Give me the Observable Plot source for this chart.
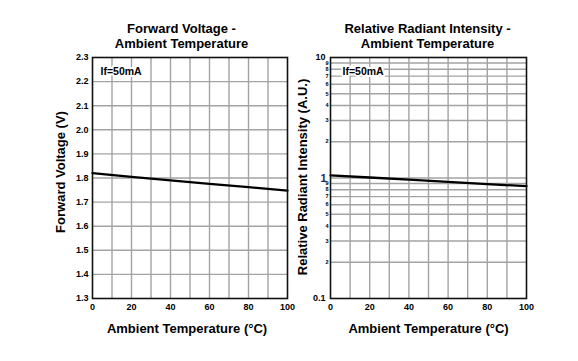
<!DOCTYPE html>
<html><head><meta charset="utf-8">
<script src="https://cdn.jsdelivr.net/npm/d3@7"></script>
<script src="https://cdn.jsdelivr.net/npm/@observablehq/plot@0.6"></script>
<style>
body{margin:0;background:#fff;}
#wrap{display:flex;width:578px;height:361px;overflow:hidden;background:#fff;}
svg{font-family:"Liberation Sans",Arial,sans-serif;overflow:visible;}
svg text{font-weight:bold;}
</style>
</head><body><div id="wrap"></div>
<script>
// ---- data ----
const temps = [0, 20, 40, 60, 80, 100];
const forwardVoltage = [1.82, 1.805, 1.79, 1.776, 1.762, 1.748];
const relIntensity = [1.05, 1.01, 0.97, 0.93, 0.89, 0.855];

const xTicks = [0, 20, 40, 60, 80, 100];
const xGrid = [10, 20, 30, 40, 50, 60, 70, 80, 90];
const vfTicks = [1.3, 1.4, 1.5, 1.6, 1.7, 1.8, 1.9, 2.0, 2.1, 2.2, 2.3];
const intMajorTicks = [0.1, 10];
const intUnitTick = [1];
const intMinorTicks = [0.2, 0.3, 0.4, 0.5, 0.6, 0.7, 0.8, 0.9, 2, 3, 4, 5, 6, 7, 8, 9];
const intMinorLabels = ["2", "3", "4", "5", "6", "7", "8", "9", "2", "3", "4", "5", "6", "7", "8", "9"];
const intGrid = [0.2, 0.3, 0.4, 0.5, 0.6, 0.7, 0.8, 0.9, 1, 2, 3, 4, 5, 6, 7, 8, 9];

const leftTitle = ["Forward Voltage -", "Ambient Temperature"];
const rightTitle = ["Relative Radiant Intensity -", "Ambient Temperature"];
const xTitle = "Ambient Temperature (°C)";
const leftYTitle = "Forward Voltage (V)";
const rightYTitle = "Relative Radiant Intensity (A.U.)";
const condition = "If=50mA";

const vfData = temps.map((t, i) => ({t, v: forwardVoltage[i]}));
const intData = temps.map((t, i) => ({t, v: relIntensity[i]}));
const minorData = intMinorTicks.map((v, i) => ({v, label: intMinorLabels[i]}));

const gridStyle = {stroke: "#a3a3a3", strokeOpacity: 1, strokeWidth: 1.4};
const FONT = '"Liberation Sans", Arial, sans-serif';

const left = Plot.plot({
  width: 289, height: 361,
  marginLeft: 92, marginRight: 2, marginTop: 57, marginBottom: 63,
  style: {fontFamily: FONT, background: "transparent", overflow: "visible"},
  x: {domain: [0, 100], label: null},
  y: {domain: [1.3, 2.3], label: null},
  marks: [
    Plot.gridX(xGrid, gridStyle),
    Plot.gridY(vfTicks.slice(1, -1), gridStyle),
    Plot.text([condition], {frameAnchor: "top-left", dx: 8, dy: 10, lineAnchor: "top", textAnchor: "start", fontSize: 10.5, fill: "#000", stroke: "#fff", strokeWidth: 4, paintOrder: "stroke"}),
    Plot.line(vfData, {x: "t", y: "v", stroke: "#000", strokeWidth: 2.3}),
    Plot.frame({stroke: "#111", strokeWidth: 1.6}),
    Plot.axisY(vfTicks, {tickSize: 0, tickPadding: 4, fontSize: 9, tickFormat: d => d.toFixed(1), label: null}),
    Plot.axisX(xTicks, {tickSize: 0, tickPadding: 5.5, fontSize: 9, label: null}),
    Plot.text([leftTitle[0]], {frameAnchor: "top", dx: -8.5, dy: -24.5, lineAnchor: "bottom", fontSize: 13, fill: "#000"}),
    Plot.text([leftTitle[1]], {frameAnchor: "top", dx: -8.5, dy: -9.8, lineAnchor: "bottom", fontSize: 13, fill: "#000"}),
    Plot.text([xTitle], {frameAnchor: "bottom", dx: -3, dy: 34, lineAnchor: "bottom", fontSize: 13, fill: "#000"}),
    Plot.text([leftYTitle], {frameAnchor: "left", dx: -28, dy: -6, rotate: -90, textAnchor: "middle", lineAnchor: "bottom", fontSize: 13, fill: "#000"})
  ]
});

const right = Plot.plot({
  width: 289, height: 361,
  marginLeft: 41, marginRight: 52, marginTop: 57, marginBottom: 63,
  style: {fontFamily: FONT, background: "transparent", overflow: "visible"},
  x: {domain: [0, 100], label: null},
  y: {type: "log", domain: [0.1, 10], label: null},
  marks: [
    Plot.gridX(xGrid, gridStyle),
    Plot.gridY(intGrid, gridStyle),
    Plot.text([condition], {frameAnchor: "top-left", dx: 12, dy: 10, lineAnchor: "top", textAnchor: "start", fontSize: 10.5, fill: "#000", stroke: "#fff", strokeWidth: 4, paintOrder: "stroke"}),
    Plot.line(intData, {x: "t", y: "v", stroke: "#000", strokeWidth: 2.3}),
    Plot.frame({stroke: "#111", strokeWidth: 1.6}),
    Plot.axisY(intMajorTicks, {tickSize: 0, tickPadding: 5, fontSize: 9, tickFormat: d => String(d), label: null}),
    Plot.axisY(intUnitTick, {tickSize: 0, tickPadding: 4, fontSize: 11, fill: "#1b2a6b", tickFormat: d => String(d), label: null}),
    Plot.text(minorData, {y: "v", text: "label", frameAnchor: "left", dx: -2, textAnchor: "end", lineAnchor: "middle", fontSize: 5.5, fill: "#000"}),
    Plot.axisX(xTicks, {tickSize: 0, tickPadding: 5.5, fontSize: 9, label: null}),
    Plot.text([rightTitle[0]], {frameAnchor: "top", dx: -1, dy: -24.5, lineAnchor: "bottom", fontSize: 13, fill: "#000"}),
    Plot.text([rightTitle[1]], {frameAnchor: "top", dx: -1, dy: -9.8, lineAnchor: "bottom", fontSize: 13, fill: "#000"}),
    Plot.text([xTitle], {frameAnchor: "bottom", dx: 0, dy: 34, lineAnchor: "bottom", fontSize: 13, fill: "#000"}),
    Plot.text([rightYTitle], {frameAnchor: "left", dx: -24, dy: -1, rotate: -90, textAnchor: "middle", lineAnchor: "bottom", fontSize: 13, fill: "#000"})
  ]
});

const wrap = document.getElementById("wrap");
wrap.appendChild(left);
wrap.appendChild(right);
</script>
</body></html>
